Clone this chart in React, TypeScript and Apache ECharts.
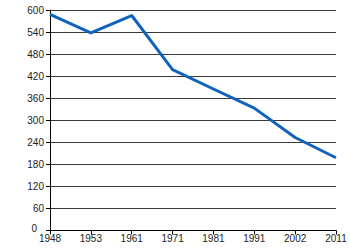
import React, { useEffect, useRef } from "react";
import * as echarts from "echarts";

const years = ["1948", "1953", "1961", "1971", "1981", "1991", "2002", "2011"];
const values = [588, 538, 585, 438, 385, 333, 253, 198];

export default function App() {
  const ref = useRef<HTMLDivElement>(null);
  useEffect(() => {
    const chart = echarts.init(ref.current!, null, { renderer: "svg" });
    const font = "Liberation Sans, Arial, sans-serif";
    chart.setOption({
      animation: false,
      grid: { left: 50, right: 14, top: 10, bottom: 19.5, containLabel: false },
      xAxis: {
        type: "category",
        data: years,
        boundaryGap: false,
        axisLine: { lineStyle: { color: "#000", width: 1 } },
        axisTick: { show: true, length: 4, lineStyle: { color: "#000" }, alignWithLabel: true },
        axisLabel: { color: "#222", fontSize: 10, fontFamily: font, margin: 3, interval: 0, showMaxLabel: true },
        splitLine: { show: false },
      },
      yAxis: {
        type: "value",
        min: 0,
        max: 600,
        interval: 60,
        axisLine: { show: true, lineStyle: { color: "#000", width: 1 } },
        axisTick: { show: true, length: 4, lineStyle: { color: "#000" } },
        axisLabel: {
          color: "#222",
          fontSize: 10,
          fontFamily: font,
          margin: 6,
          formatter: (v: number) => (v === 0 ? "{z|0}" : String(v)),
          rich: { z: { fontSize: 10, fontFamily: font, color: "#222", padding: [0, 7, 4, 0] } },
        },
        splitLine: { show: true, lineStyle: { color: "#3a3a3a", width: 1 } },
      },
      series: [
        {
          type: "line",
          data: values,
          symbol: "none",
          lineStyle: { color: "#0f63bd", width: 3 },
        },
      ],
    });
    return () => chart.dispose();
  }, []);
  return <div ref={ref} style={{ width: 350, height: 250, position: "absolute", left: 0, top: 0 }} />;
}
